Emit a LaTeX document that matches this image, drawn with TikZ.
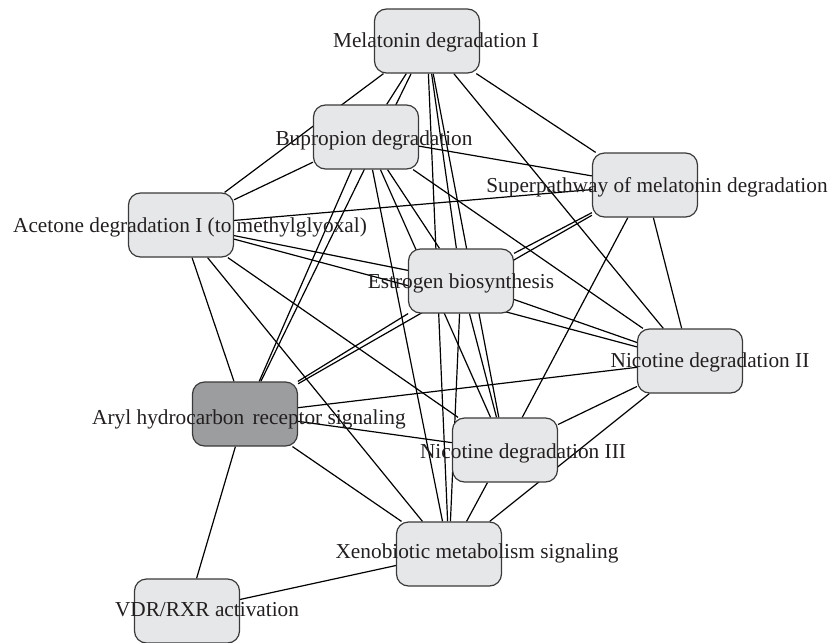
\documentclass[tikz,border=0pt]{standalone}
\usepackage{fontspec}
\setmainfont{Liberation Serif}
\usetikzlibrary{backgrounds}
\definecolor{boxfill}{HTML}{E6E7E8}
\definecolor{boxdark}{HTML}{9C9D9F}
\definecolor{boxline}{HTML}{3A3A3A}
\definecolor{txt}{HTML}{231F20}
\begin{document}
\begin{tikzpicture}[x=1pt,y=-1pt,
  box/.style={draw=boxline, line width=1.2pt, rounded corners=12pt, fill=boxfill,
    minimum width=105pt, minimum height=64pt, inner sep=0pt},
  darkbox/.style={box, fill=boxdark},
  lab/.style={anchor=base, inner sep=0pt, text=txt, font=\fontsize{21.3}{24}\selectfont},
  edge/.style={draw=black, line width=1.2pt}]
\useasboundingbox (0,0) rectangle (828,643);
% boxes
\node[box] (M) at (427,41) {};
\node[box] (B) at (366,137) {};
\node[box] (S) at (645,185) {};
\node[box] (A) at (181,225) {};
\node[box] (E) at (461,281) {};
\node[box] (N2) at (690,361) {};
\node[darkbox] (R) at (245,414) {};
\node[box] (N3) at (505,450) {};
\node[box] (X) at (449,554) {};
\node[box] (V) at (187,611) {};
% labels
\node[lab] (Ml) at (436,47) {Melatonin degradation I};
\node[lab] (Bl) at (374,145) {Bupropion degradation};
\node[lab] (Sl) at (657,192) {Superpathway of melatonin degradation};
\node[lab] (Al) at (190,232) {Acetone degradation I (to methylglyoxal)};
\node[lab] (El) at (461,288) {Estrogen biosynthesis};
\node[lab] (N2l) at (710,367) {Nicotine degradation II};
\node[lab] (Rl) at (249,424) {Aryl hydrocarbon\hspace{3pt} receptor signaling};
\node[lab] (N3l) at (523,458) {Nicotine degradation III};
\node[lab] (Xl) at (477,558) {Xenobiotic metabolism signaling};
\node[lab] (Vl) at (207,616) {VDR/RXR activation};
% edges
\begin{scope}[on background layer]
\foreach \a/\b in {M/A, M/B, M/R, M/S, M/N2, M/E, M/N3, M/X,
  B/A, B/S, B/N2, B/R, B/X, B/N3, B/E,
  S/A, S/E, S/R, S/N2, S/N3,
  A/E, A/N2, A/R, A/X, A/N3,
  E/R, E/N2, E/N3, E/X,
  N2/R, N2/N3, N2/X,
  R/N3, R/X, R/V,
  N3/X, X/V}
  \draw[edge] (\a) -- (\b);
\end{scope}
\end{tikzpicture}
\end{document}
